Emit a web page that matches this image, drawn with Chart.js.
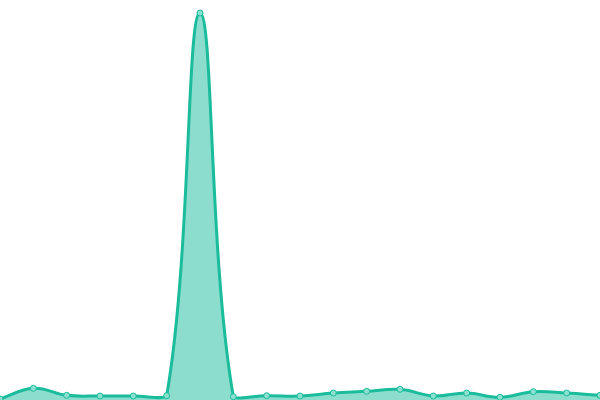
<!DOCTYPE html>
<html>
<head>
<meta charset="utf-8">
<script src="https://cdn.jsdelivr.net/npm/chart.js@4/dist/chart.umd.min.js"></script>
<style>
  html, body { margin: 0; padding: 0; background: #fff; overflow: hidden; }
  /* the line controller insets its area by 5px for the points, so the
     canvas is 5px bigger on every side to let the plot fill the page */
  #wrap { position: absolute; left: -5px; top: -5px; width: 610px; height: 410px; }
</style>
</head>
<body>
<div id="wrap"><canvas id="lineChart"></canvas></div>
<script>
// categories (no labels shown on the chart)
const categories = ["1", "2", "3", "4", "5", "6", "7", "8", "9", "10",
  "11", "12", "13", "14", "15", "16", "17", "18", "19"];
// series values
const values = [1, 11.7, 4.7, 4, 4, 4.3, 387, 3.3, 4.3, 4,
  7, 8.7, 10.7, 4, 7, 2.7, 8.3, 7, 4.7];
const yMin = 0;
const yMax = 400;

const lineChart = document.getElementById("lineChart");

new Chart(lineChart, {
  type: "line",
  data: {
    labels: categories,
    datasets: [
      {
        data: values,
        borderColor: "#1abc9c",
        backgroundColor: "rgba(26, 188, 156, 0.5)",
        borderWidth: 3,
        fill: true,
        tension: 0.4,
        pointRadius: 3,
        pointBorderWidth: 1,
        pointBackgroundColor: "#8ce0cf",
        pointBorderColor: "#1abc9c"
      }
    ]
  },
  options: {
    responsive: true,
    maintainAspectRatio: false,
    animation: false,
    plugins: {
      legend: { display: false },
      tooltip: { enabled: false }
    },
    scales: {
      x: { display: false },
      y: { display: false, min: yMin, max: yMax }
    }
  }
});
</script>
</body>
</html>
